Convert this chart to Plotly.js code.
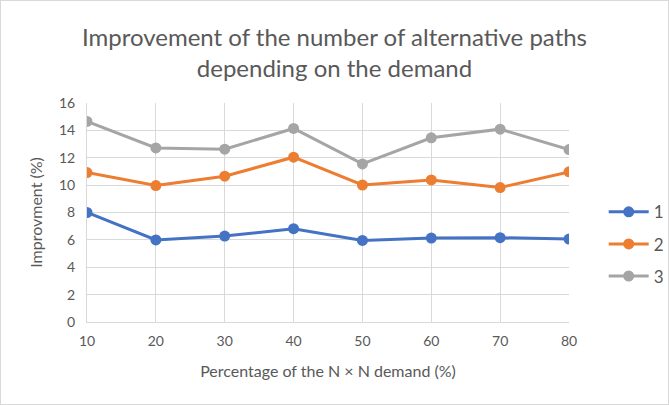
<!DOCTYPE html>
<html>
<head>
<meta charset="utf-8">
<script src="https://cdn.plot.ly/plotly-3.0.1.min.js"></script>
<style>
html,body{margin:0;padding:0;background:#fff;}
#chart{width:669px;height:405px;}
</style>
</head>
<body>
<div id="chart"></div>
<script>
const demand = [10, 20, 30, 40, 50, 60, 70, 80];
const seriesNames = ["1", "2", "3"];
const series1 = [8.0, 6.0, 6.28, 6.82, 5.96, 6.13, 6.16, 6.06];
const series2 = [10.92, 9.97, 10.65, 12.04, 10.01, 10.38, 9.82, 10.97];
const series3 = [14.65, 12.72, 12.63, 14.14, 11.55, 13.46, 14.09, 12.6];
const colors = ["#4472C4", "#ED7D31", "#A5A5A5"];
const yTicks = [0, 2, 4, 6, 8, 10, 12, 14, 16];

const font = "Lato, 'Liberation Sans', sans-serif";
const traces = [series1, series2, series3].map((vals, i) => ({
  x: demand, y: vals, name: seriesNames[i], type: "scatter", mode: "lines+markers",
  legendgroup: "g" + i,
  line: {color: colors[i], width: 3},
  marker: {color: colors[i], size: 11}
}));

const layout = {
  width: 669, height: 405,
  margin: {l: 87, r: 100, t: 103, b: 83, autoexpand: false},
  paper_bgcolor: "#fff", plot_bgcolor: "#fff",
  font: {family: font, color: "#595959", size: 14},
  title: {text: "Improvement of the number of alternative paths<br>depending on the demand",
    font: {size: 24, color: "#595959", family: font}, x: 0.5, xanchor: "center",
    yref: "container", y: 1 - 46 / 405, yanchor: "middle", automargin: false},
  xaxis: {range: [10, 80], tickvals: demand, showgrid: true, gridcolor: "#D9D9D9", gridwidth: 1,
    zeroline: false, showline: true, linecolor: "#D9D9D9", linewidth: 1,
    ticks: "outside", ticklen: 6, tickcolor: "rgba(0,0,0,0)",
    tickfont: {size: 14, color: "#595959"},
    title: {text: "Percentage of the N × N demand (%)", font: {size: 16, color: "#595959"}, standoff: 18}},
  yaxis: {range: [0, 16], tickvals: yTicks, showgrid: true, gridcolor: "#D9D9D9", gridwidth: 1,
    zeroline: false, showline: true, linecolor: "#D9D9D9",
    ticks: "outside", ticklen: 8, tickcolor: "rgba(0,0,0,0)",
    tickfont: {size: 14, color: "#595959"},
    title: {text: "Improvment (%)", font: {size: 16, color: "#595959"}, standoff: 12}},
  legend: {x: 1.072, xanchor: "left", y: 0.355, yanchor: "middle", font: {size: 17, color: "#595959"},
    tracegroupgap: 7, itemwidth: 40, bgcolor: "rgba(0,0,0,0)"},
  showlegend: true
};
Plotly.newPlot("chart", traces, layout, {displayModeBar: false, staticPlot: true}).then(() => {
  const svg = document.querySelector("#chart .main-svg");
  const r = document.createElementNS("http://www.w3.org/2000/svg", "rect");
  r.setAttribute("x", "0.5"); r.setAttribute("y", "0.5");
  r.setAttribute("width", "668"); r.setAttribute("height", "404");
  r.setAttribute("fill", "none"); r.setAttribute("stroke", "#D9D9D9");
  svg.appendChild(r);
});
</script>
</body>
</html>
